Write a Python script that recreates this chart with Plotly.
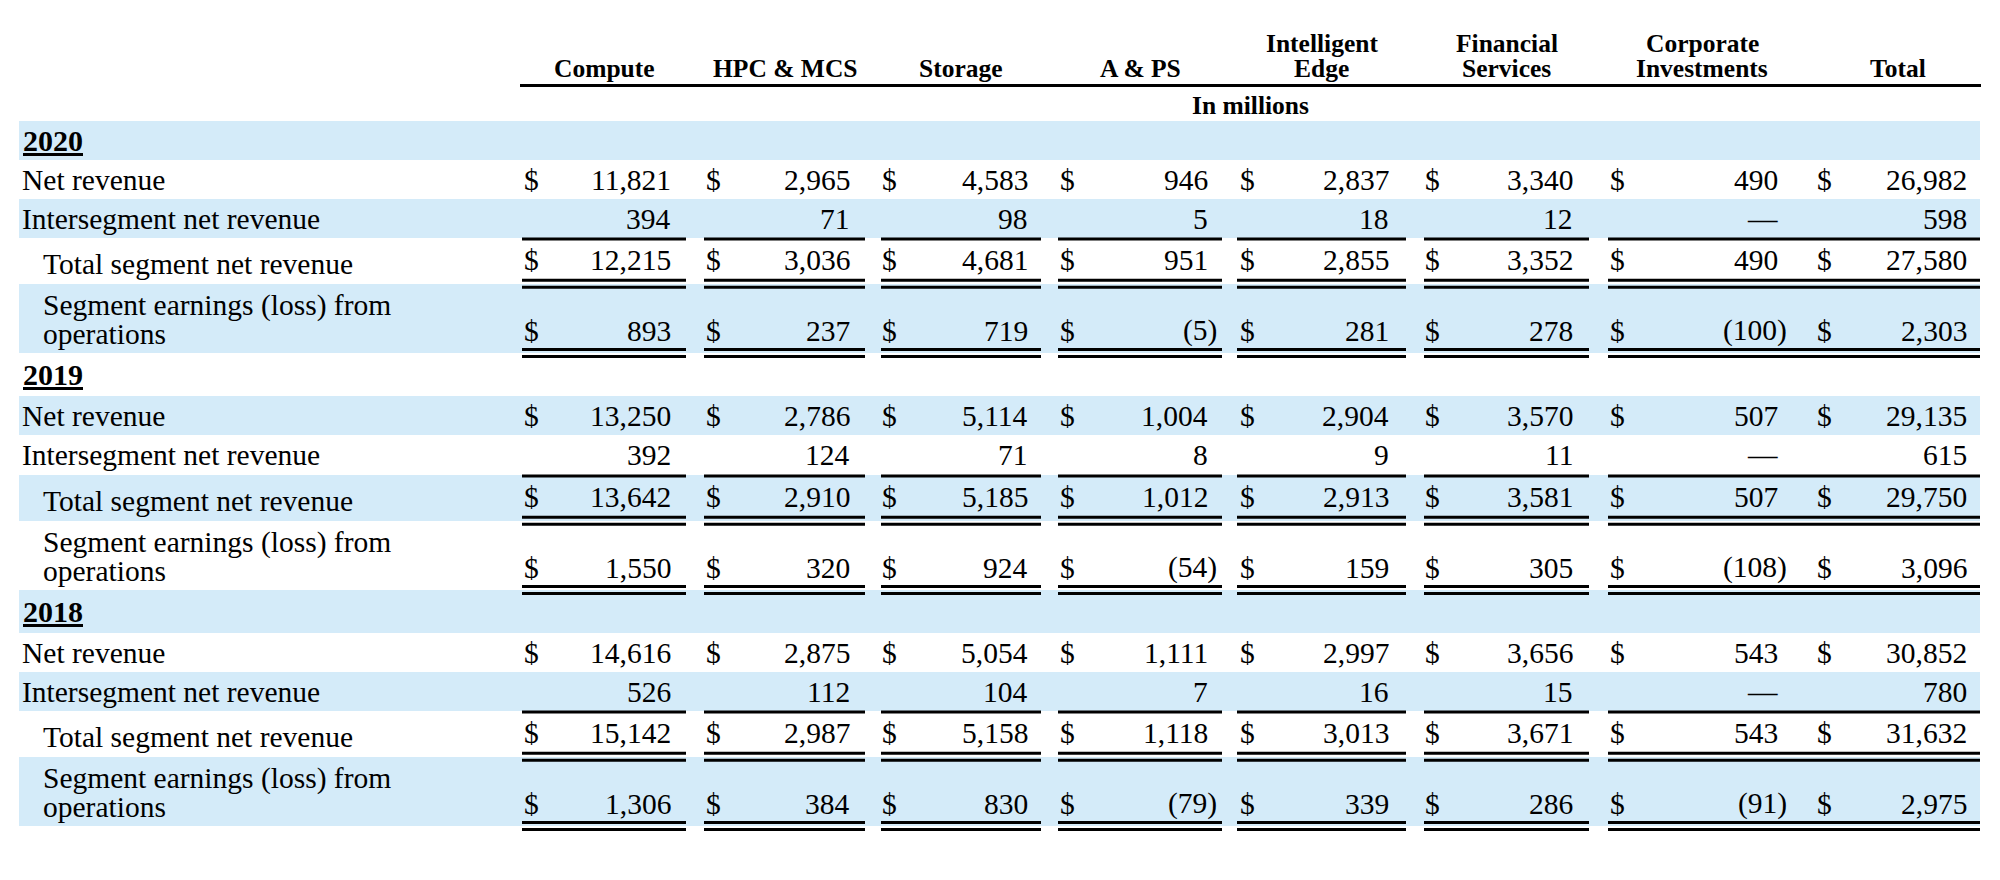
import plotly.graph_objects as go

# ---------------- data ----------------
columns = ["Compute", "HPC & MCS", "Storage", "A & PS", "Intelligent Edge",
           "Financial Services", "Corporate Investments", "Total"]
header_lines = [["Compute"], ["HPC & MCS"], ["Storage"], ["A & PS"],
                ["Intelligent", "Edge"], ["Financial", "Services"],
                ["Corporate", "Investments"], ["Total"]]
years = ["2020", "2019", "2018"]
row_labels = ["Net revenue", "Intersegment net revenue",
              "Total segment net revenue", "Segment earnings (loss) from<br>operations"]

net_revenue_2020 = [11821, 2965, 4583, 946, 2837, 3340, 490, 26982]
intersegment_2020 = [394, 71, 98, 5, 18, 12, None, 598]
total_segment_2020 = [12215, 3036, 4681, 951, 2855, 3352, 490, 27580]
earnings_2020 = [893, 237, 719, -5, 281, 278, -100, 2303]

net_revenue_2019 = [13250, 2786, 5114, 1004, 2904, 3570, 507, 29135]
intersegment_2019 = [392, 124, 71, 8, 9, 11, None, 615]
total_segment_2019 = [13642, 2910, 5185, 1012, 2913, 3581, 507, 29750]
earnings_2019 = [1550, 320, 924, -54, 159, 305, -108, 3096]

net_revenue_2018 = [14616, 2875, 5054, 1111, 2997, 3656, 543, 30852]
intersegment_2018 = [526, 112, 104, 7, 16, 15, None, 780]
total_segment_2018 = [15142, 2987, 5158, 1118, 3013, 3671, 543, 31632]
earnings_2018 = [1306, 384, 830, -79, 339, 286, -91, 2975]

sections = [
    (years[0], [net_revenue_2020, intersegment_2020, total_segment_2020, earnings_2020]),
    (years[1], [net_revenue_2019, intersegment_2019, total_segment_2019, earnings_2019]),
    (years[2], [net_revenue_2018, intersegment_2018, total_segment_2018, earnings_2018]),
]

# ---------------- layout constants (pixels of the page) ----------------
W, H = 2000, 880
PAGE_MARGIN = 8          # default body margin of the html page
FONT = "Liberation Serif"
BLUE = "#d4ebf9"
BODY = 29.5
HEAD = 25.5
row_bounds = [121, 160, 199, 238, 284, 353, 396, 435, 475, 521, 590,
              633, 672, 711, 757, 826]
band_x0, band_x1 = 19, 1980
seg_start = [522, 704, 881, 1058, 1237, 1424, 1608, 1815]
seg_end = [686, 865, 1041, 1222, 1406, 1589, 1796, 1980]
line_spans = [(522, 686), (704, 865), (881, 1041), (1058, 1222), (1237, 1406),
              (1424, 1589), (1608, 1980)]
dollar_x = [531, 713, 889.5, 1067, 1247, 1432.5, 1617, 1824.5]
value_right = [672, 851, 1029, 1208.5, 1390, 1574, 1779, 1967.5]
paren_w = 9

fig = go.Figure()
fig.add_trace(go.Scatter(x=[PAGE_MARGIN, W - PAGE_MARGIN], y=[PAGE_MARGIN, H - PAGE_MARGIN],
                         mode="markers", marker=dict(opacity=0),
                         hoverinfo="skip", showlegend=False))

shapes = []
annotations = []


def txt(x, y, s, anchor="left", size=BODY, bold=False):
    annotations.append(dict(
        x=x, y=y, xref="x", yref="y", text=(f"<b>{s}</b>" if bold else s),
        showarrow=False, xanchor=anchor, yanchor="middle",
        font=dict(family=FONT, size=size, color="black"),
        borderpad=0, align=anchor if anchor != "center" else "center"))


def hline(x0, x1, y, w=3):
    shapes.append(dict(type="line", xref="x", yref="y", x0=x0, x1=x1, y0=y, y1=y,
                       line=dict(color="black", width=w), layer="above"))


# bands
for i in range(len(row_bounds) - 1):
    if i % 2 == 0:
        shapes.append(dict(type="rect", xref="x", yref="y", x0=band_x0, x1=band_x1,
                           y0=row_bounds[i], y1=row_bounds[i + 1],
                           fillcolor=BLUE, line=dict(width=0), layer="below"))

# header
for c, lines in enumerate(header_lines):
    cx = (seg_start[c] + seg_end[c]) / 2
    base = 68.7
    for k, ln in enumerate(lines):
        y = base - (len(lines) - 1 - k) * 25.4
        txt(cx, y, ln, anchor="center", size=HEAD, bold=True)
hline(520, 1981, 85.5)
txt(1250.5, 105.5, "In millions", anchor="center", size=HEAD, bold=True)


def fmt(v):
    if v is None:
        return "\u2014", 0
    if v < 0:
        return f"({abs(v):,})", paren_w
    return f"{v:,}", 0


for s, (year, series) in enumerate(sections):
    r0 = s * 5
    mids = [(row_bounds[r0 + k] + row_bounds[r0 + k + 1]) / 2 for k in range(5)]
    # year label
    annotations.append(dict(x=21, y=mids[0], xref="x", yref="y",
                            text=f"<b><u>{year}</u></b>", showarrow=False,
                            xanchor="left", yanchor="middle",
                            font=dict(family=FONT, size=30, color="black")))
    # row labels
    txt(21, mids[1], row_labels[0])
    txt(21, mids[2], row_labels[1])
    txt(42, mids[3] + 3, row_labels[2])
    lab = row_labels[3].split("<br>")
    txt(42, mids[4] - 13, lab[0])
    txt(42, mids[4] + 15, lab[1])
    # values
    y_for = [mids[1], mids[2], mids[3] - 1.5, mids[4] + 12]
    dollar_rows = [True, False, True, True]
    for k in range(4):
        vals = series[k]
        for c, v in enumerate(vals):
            t, shift = fmt(v)
            txt(value_right[c] + shift, y_for[k], t, anchor="right")
            if dollar_rows[k]:
                txt(dollar_x[c], y_for[k], "$", anchor="center")
    # rules
    b_is = row_bounds[r0 + 3]
    b_ts = row_bounds[r0 + 4]
    b_se = row_bounds[r0 + 5]
    for (x0, x1) in line_spans:
        hline(x0, x1, b_is + 1)
        hline(x0, x1, b_ts - 3.7)
        hline(x0, x1, b_ts + 3.2)
        hline(x0, x1, b_se - 3.5)
        hline(x0, x1, b_se + 3.5)

# the plot area is offset by the page's body margin, so axis ranges are shifted
fig.update_layout(
    width=W - 2 * PAGE_MARGIN, height=H - 2 * PAGE_MARGIN,
    margin=dict(l=0, r=0, t=0, b=0, pad=0),
    paper_bgcolor="white", plot_bgcolor="white",
    xaxis=dict(range=[PAGE_MARGIN, W - PAGE_MARGIN], visible=False, fixedrange=True),
    yaxis=dict(range=[H - PAGE_MARGIN, PAGE_MARGIN], visible=False, fixedrange=True),
    shapes=shapes, annotations=annotations, showlegend=False,
)
fig.write_html("out.html", config={"displayModeBar": False})
